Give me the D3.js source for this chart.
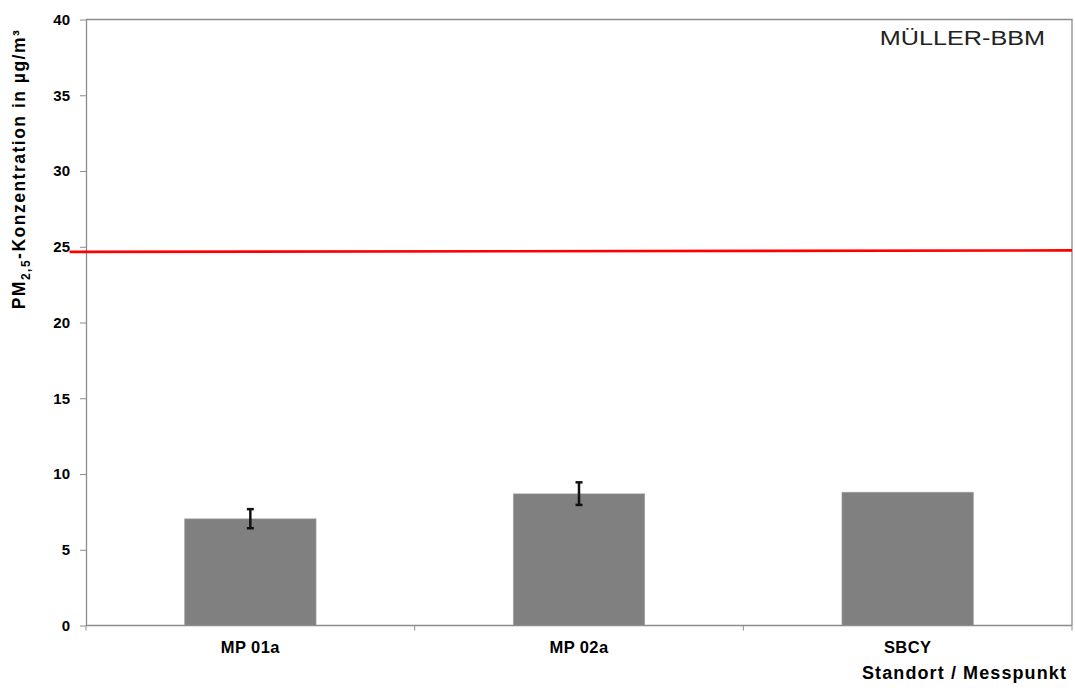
<!DOCTYPE html>
<html>
<head>
<meta charset="utf-8">
<script src="https://cdn.jsdelivr.net/npm/d3@7"></script>
<style>
  body { margin: 0; background: #fff; }
  svg text { font-family: "Liberation Sans", Arial, sans-serif; }
</style>
</head>
<body>
<div id="chart-area"></div>
<script>
// data
var categories = ["MP 01a", "MP 02a", "SBCY"];
var values = [7.04, 8.69, 8.80];
var errLow = [6.42, 7.96, null];
var errHigh = [7.68, 9.45, null];
var yTicks = [0, 5, 10, 15, 20, 25, 30, 35, 40];
// limit line (position along category axis, value)
var limitPos = [-0.05, 3];
var limitVal = [24.66, 24.76];

var margin = {left: 86, right: 3, top: 19.5, bottom: 65.5};
var W = 1075, H = 691;
var width = W - margin.left - margin.right;
var height = H - margin.top - margin.bottom;

var svg = d3.select('#chart-area')
  .append('svg')
  .attr('width', W)
  .attr('height', H);

var g = svg.append('g')
  .attr('transform', 'translate(' + margin.left + ', ' + margin.top + ')');

var x = d3.scaleBand()
  .domain(categories)
  .range([0, width])
  .paddingInner(0.6)
  .paddingOuter(0.3);

var xPos = d3.scaleLinear().domain([0, 3]).range([0, width]);

var y = d3.scaleLinear()
  .domain([0, 40])
  .range([height, 0]);

// plot frame (top and right)
g.append('path')
  .attr('d', 'M0,0H' + width + 'V' + height)
  .attr('fill', 'none')
  .attr('stroke', '#8c8c8c')
  .attr('stroke-width', 1.3);

// bars
g.selectAll('rect.bar').data(values)
  .enter().append('rect')
  .attr('class', 'bar')
  .attr('x', (d, i) => x(categories[i]))
  .attr('y', (d) => y(d))
  .attr('width', x.bandwidth())
  .attr('height', (d) => height - y(d))
  .attr('fill', '#808080')
  .attr('stroke', '#a6a6a6')
  .attr('stroke-width', 0.6);

// error bars
var errs = categories.map((c, i) => ({c: c, lo: errLow[i], hi: errHigh[i]}))
  .filter((d) => d.lo != null);

var eb = g.selectAll('g.err').data(errs).enter().append('g')
  .attr('class', 'err')
  .attr('transform', (d) => 'translate(' + (x(d.c) + x.bandwidth() / 2) + ',0)');
eb.append('line')
  .attr('y1', (d) => y(d.lo)).attr('y2', (d) => y(d.hi))
  .attr('stroke', '#111').attr('stroke-width', 2.5);
eb.append('line')
  .attr('x1', -3.5).attr('x2', 3.5)
  .attr('y1', (d) => y(d.lo)).attr('y2', (d) => y(d.lo))
  .attr('stroke', '#111').attr('stroke-width', 2.5);
eb.append('line')
  .attr('x1', -3.5).attr('x2', 3.5)
  .attr('y1', (d) => y(d.hi)).attr('y2', (d) => y(d.hi))
  .attr('stroke', '#111').attr('stroke-width', 2.5);

// axes
var yAxis = d3.axisLeft(y).tickValues(yTicks).tickSizeInner(6).tickSizeOuter(0).tickPadding(4);
var ya = g.append('g').attr('class', 'left axis').call(yAxis);
ya.select('.domain').attr('stroke', '#8c8c8c').attr('stroke-width', 1.3);
ya.selectAll('.tick line').attr('stroke', '#8c8c8c');
ya.selectAll('.tick text')
  .attr('font-size', '15px').attr('font-weight', 'bold').attr('fill', '#000')
  .attr('x', -16);

var xa = g.append('g').attr('class', 'bottom axis')
  .attr('transform', 'translate(0,' + height + ')');
xa.append('line')
  .attr('x1', 0).attr('x2', width)
  .attr('stroke', '#8c8c8c').attr('stroke-width', 1.3);
xa.selectAll('line.tk').data(d3.range(0, 4))
  .enter().append('line')
  .attr('class', 'tk')
  .attr('x1', (d) => xPos(d)).attr('x2', (d) => xPos(d))
  .attr('y1', 0).attr('y2', 5)
  .attr('stroke', '#8c8c8c');
xa.selectAll('text').data(categories)
  .enter().append('text')
  .attr('x', (d) => x(d) + x.bandwidth() / 2)
  .attr('y', 27.5)
  .attr('text-anchor', 'middle')
  .attr('font-size', '16.5px').attr('font-weight', 'bold')
  .attr('letter-spacing', '0.4px')
  .text((d) => d);

// limit line
var line = d3.line()
  .x((d) => xPos(d[0]))
  .y((d) => y(d[1]));
g.append('path')
  .datum(limitPos.map((p, i) => [p, limitVal[i]]))
  .attr('d', line)
  .attr('fill', 'none')
  .attr('stroke', '#ff0000')
  .attr('stroke-width', 2.6);

// labels
var yl = svg.append('text')
  .attr('transform', 'translate(25,' + 169 + ') rotate(-90)')
  .attr('text-anchor', 'middle')
  .attr('font-size', '17.5px').attr('font-weight', 'bold')
  .attr('letter-spacing', '1.5px');
yl.append('tspan').text('PM');
yl.append('tspan').attr('font-size', '12px').attr('dy', 5).text('2,5');
yl.append('tspan').attr('dy', -5).text('-Konzentration in µg/m³');

svg.append('text')
  .attr('x', 1067).attr('y', 679)
  .attr('text-anchor', 'end')
  .attr('font-size', '18px').attr('font-weight', 'bold')
  .attr('letter-spacing', '1.1px')
  .text('Standort / Messpunkt');

svg.append('text')
  .attr('transform', 'translate(1045,44.5) scale(1.2,1)')
  .attr('text-anchor', 'end')
  .attr('font-size', '21px')
  .attr('fill', '#222')
  .text('MÜLLER-BBM');
</script>
</body>
</html>
